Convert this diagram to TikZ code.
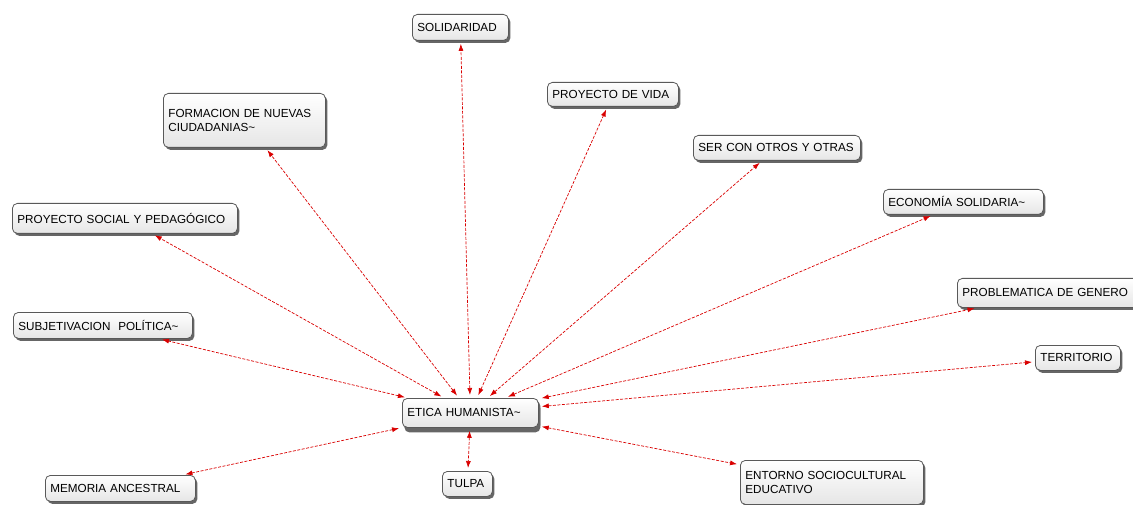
\documentclass[tikz,border=0pt]{standalone}
\usepackage{fontspec}
\setmainfont{Liberation Sans}
\usetikzlibrary{arrows.meta,shadows}

\begin{document}
\begin{tikzpicture}
          [ x=1pt, y=-1pt,
            concepto/.style={
              rectangle,
              draw=black!65,
              line width=.8pt,
              rounded corners=5pt,
              top color=white,
              bottom color=black!10,
              drop shadow={shadow xshift=2pt, shadow yshift=-2.5pt, fill=black!60, opacity=1},
              font=\fontsize{11.7}{14}\selectfont,
              align=left,
              inner xsep=5pt,
              inner ysep=2pt,
              anchor=north west},
            central/.style={
              concepto,
              drop shadow={shadow xshift=2pt, shadow yshift=-5pt, fill=black!60, opacity=1}},
            relacion/.style={
              draw,
              red!85!black,
              line width=.7pt,
              dash pattern=on 3pt off 1.5pt,
              {Latex[length=7pt,width=5pt]}-{Latex[length=7pt,width=5pt]},
              shorten <=3pt,
              shorten >=3pt,
            },
          ]

          \useasboundingbox (0,0) rectangle (1133,505);

          \node (etica) [central, text width=126pt, minimum height=29pt] at (402,398) {ETICA HUMANISTA\textasciitilde};

          \node (solidaridad) [concepto, text width=86pt, minimum height=26pt] at (412,14) {SOLIDARIDAD};
          \node (vida) [concepto, text width=121pt, minimum height=24pt] at (547,82) {PROYECTO DE VIDA};
          \node (formacion) [concepto, text width=152pt, minimum height=54pt] at (163,93) {FORMACION DE NUEVAS\\CIUDADANIAS\textasciitilde};
          \node (otros) [concepto, text width=157pt, minimum height=25pt] at (693,135) {SER CON OTROS Y OTRAS};
          \node (social) [concepto, text width=215pt, minimum height=30pt] at (12,203) {PROYECTO SOCIAL Y PEDAGÓGICO};
          \node (economia) [concepto, text width=150pt, minimum height=25pt] at (883,189) {ECONOMÍA SOLIDARIA\textasciitilde};
          \node (genero) [concepto, text width=174pt, minimum height=29pt] at (957,278) {PROBLEMATICA DE GENERO};
          \node (subjetivacion) [concepto, text width=169pt, minimum height=26pt] at (13,312) {SUBJETIVACION\ \ POLÍTICA\textasciitilde};
          \node (territorio) [concepto, text width=75pt, minimum height=25pt] at (1035,345) {TERRITORIO};
          \node (memoria) [concepto, text width=140pt, minimum height=26pt] at (45,475) {MEMORIA ANCESTRAL};
          \node (tulpa) [concepto, text width=40pt, minimum height=25pt] at (442,471) {TULPA};
          \node (entorno) [concepto, text width=173pt, minimum height=44pt] at (740,460) {ENTORNO SOCIOCULTURAL\\EDUCATIVO};

          \draw[relacion] (etica) -- (solidaridad);
          \draw[relacion] (etica) -- (vida);
          \draw[relacion] (etica) -- (formacion);
          \draw[relacion] (etica) -- (otros);
          \draw[relacion] (etica) -- (social);
          \draw[relacion] (etica) -- (economia);
          \draw[relacion] (etica) -- (genero);
          \draw[relacion] (etica) -- (subjetivacion);
          \draw[relacion] (etica) -- (territorio);
          \draw[relacion] (etica) -- (memoria);
          \draw[relacion] (etica) -- (tulpa);
          \draw[relacion] (etica) -- (entorno);

        \end{tikzpicture}
\end{document}
